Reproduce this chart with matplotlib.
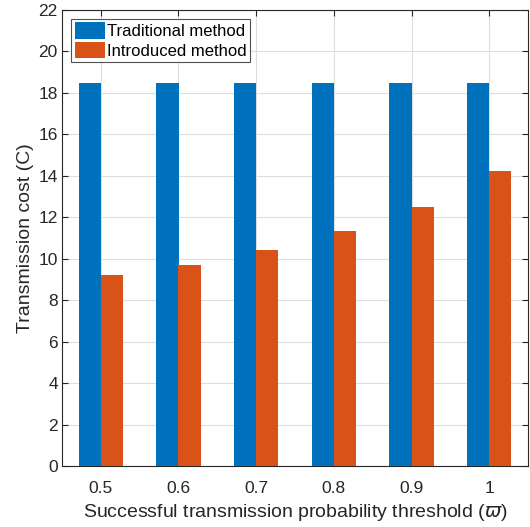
import matplotlib
matplotlib.use("Agg")
import matplotlib.pyplot as plt
import numpy as np

plt.rcParams['font.family'] = ['Liberation Sans', 'DejaVu Sans']
plt.rcParams['mathtext.fontset'] = 'dejavusans'

thresholds = [0.5, 0.6, 0.7, 0.8, 0.9, 1.0]
tick_labels = ['0.5', '0.6', '0.7', '0.8', '0.9', '1']
traditional = [18.5, 18.5, 18.5, 18.5, 18.5, 18.5]
introduced = [9.2, 9.7, 10.4, 11.35, 12.5, 14.25]

fig = plt.figure(figsize=(5.30, 5.27), dpi=100)
ax = fig.add_axes([62/530, 61/527, 466/530, 456/527])

x = np.array(thresholds)
w = 0.0285
ax.bar(x - w/2, traditional, w, color='#0072BD', label='Traditional method', zorder=3)
ax.bar(x + w/2, introduced, w, color='#D95319', label='Introduced method', zorder=3)

ax.set_xlim(0.45, 1.05)
ax.set_ylim(0, 22)
ax.set_xticks(thresholds)
ax.set_xticklabels(tick_labels)
ax.set_yticks(np.arange(0, 23, 2))
ax.grid(True, color='#dedede', linewidth=0.8, zorder=0)
ax.tick_params(direction='in', top=True, right=True, labelsize=12.5, length=4, color='#262626')
ax.tick_params(axis='y', pad=3)
ax.tick_params(axis='x', pad=11)
for s in ax.spines.values():
    s.set_color('#262626')
    s.set_linewidth(0.8)
ax.set_xlabel(r'Successful transmission probability threshold ($\it{\varpi}$)', fontsize=14, labelpad=4, color='#262626')
ax.set_ylabel('Transmission cost (C)', fontsize=14, labelpad=3, color='#262626')
for lbl in ax.get_xticklabels() + ax.get_yticklabels():
    lbl.set_color('#262626')

leg = ax.legend(loc='upper left', fontsize=12, frameon=True, fancybox=False, edgecolor='#262626',
                borderpad=0.2, handlelength=1.8, handleheight=1.12, handletextpad=0.15,
                labelspacing=0.18, borderaxespad=0.55)
leg.get_frame().set_linewidth(0.8)

fig.savefig('out.png', dpi=100)
